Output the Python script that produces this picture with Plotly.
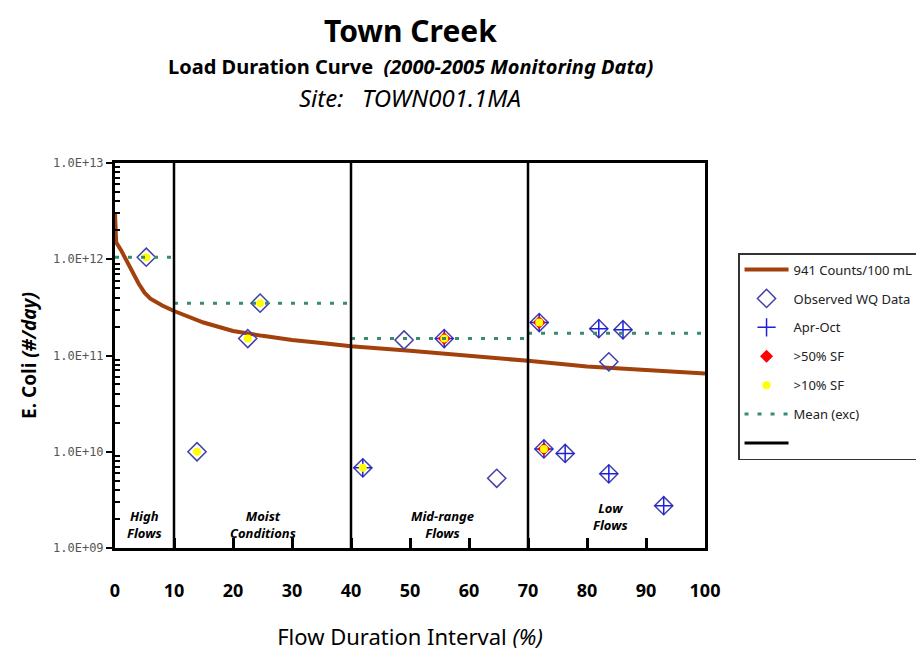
import math
import plotly.graph_objects as go

# ---- data ----
curve_x = [0, 0.2, 1, 2, 3, 4, 5, 6, 8, 10, 15, 20, 25, 30, 35, 40, 50, 60, 70, 80, 90, 100]
curve_y = [3.0e12, 1.5e12, 1.25e12, 9.5e11, 7.2e11, 5.6e11, 4.5e11, 3.9e11, 3.3e11, 2.9e11,
           2.2e11, 1.8e11, 1.6e11, 1.45e11, 1.35e11, 1.25e11, 1.12e11, 1.0e11, 8.8e10,
           7.7e10, 7.1e10, 6.5e10]

obs_x = [5.3, 13.9, 22.5, 24.6, 42.0, 49.0, 55.8, 64.7, 71.9, 72.7, 76.3, 82.0, 83.7, 83.7, 86.1, 93.0]
obs_y = [1.05e12, 1.0e10, 1.5e11, 3.5e11, 6.8e9, 1.45e11, 1.5e11, 5.3e9, 2.2e11, 1.07e10,
         9.6e9, 1.9e11, 8.6e10, 5.9e9, 1.85e11, 2.75e9]

aproct_x = [42.0, 55.8, 71.9, 72.7, 76.3, 82.0, 83.7, 86.1, 93.0]
aproct_y = [6.8e9, 1.5e11, 2.2e11, 1.07e10, 9.6e9, 1.9e11, 5.9e9, 1.85e11, 2.75e9]

sf50_x = [55.8, 71.9, 72.7]
sf50_y = [1.5e11, 2.2e11, 1.07e10]

sf10_x = [5.3, 13.9, 22.5, 24.6, 42.0, 55.8, 71.9, 72.7]
sf10_y = [1.05e12, 1.0e10, 1.5e11, 3.5e11, 6.8e9, 1.5e11, 2.2e11, 1.07e10]

zone_edges = [0, 10, 40, 70, 100]
zone_means = [1.05e12, 3.5e11, 1.5e11, 1.7e11]
zone_names = ["High<br>Flows", "Moist<br>Conditions", "Mid-range<br>Flows", "Low<br>Flows"]
zone_label_x = [5, 25, 55.5, 84]
zone_label_y = [1.75e9, 1.75e9, 1.75e9, 2.1e9]

y_tickvals = [1e9, 1e10, 1e11, 1e12, 1e13]
y_ticktext = ["1.0E+09", "1.0E+10", "1.0E+11", "1.0E+12", "1.0E+13"]
y_minor_mult = [2, 3, 4, 5, 6, 7, 8, 9]
x_tickvals = [0, 10, 20, 30, 40, 50, 60, 70, 80, 90, 100]

FONT = "Noto Sans"

mean_x, mean_y = [], []
for i, m in enumerate(zone_means):
    mean_x += [zone_edges[i], zone_edges[i + 1], None]
    mean_y += [m, m, None]

minor_vals = [m * d for d in y_tickvals[:-1] for m in y_minor_mult]

fig = go.Figure()
fig.add_trace(go.Scatter(x=curve_x, y=curve_y, mode="lines", name="941 Counts/100 mL",
                         line=dict(color="#A2410C", width=4), legendgroup="a"))
fig.add_trace(go.Scatter(x=obs_x, y=obs_y, mode="markers", name="Observed WQ Data",
                         marker=dict(symbol="diamond-open", size=14, color="#4040A8",
                                     line=dict(width=1.5, color="#4040A8")), legendgroup="b"))
fig.add_trace(go.Scatter(x=aproct_x, y=aproct_y, mode="markers", name="Apr-Oct",
                         marker=dict(symbol="cross-thin", size=13, color="#1E1EE0",
                                     line=dict(width=1.5, color="#1E1EE0")), legendgroup="c"))
fig.add_trace(go.Scatter(x=sf50_x, y=sf50_y, mode="markers", name=">50% SF",
                         marker=dict(symbol="diamond", size=10, color="#FF0000",
                                     line=dict(width=0)), legendgroup="d"))
fig.add_trace(go.Scatter(x=sf10_x, y=sf10_y, mode="markers", name=">10% SF",
                         marker=dict(symbol="circle", size=8, color="#FFFF00",
                                     line=dict(width=0)), legendgroup="e"))
fig.add_trace(go.Scatter(x=mean_x, y=mean_y, mode="lines", name="Mean (exc)",
                         line=dict(color="#3A8A70", width=3, dash="4px,9px"), legendgroup="f"))
fig.add_trace(go.Scatter(x=[None], y=[None], mode="lines", name=" ",
                         line=dict(color="black", width=3), legendgroup="g"))

for e in zone_edges[1:-1]:
    fig.add_shape(type="line", x0=e, x1=e, xref="x", yref="paper", y0=0, y1=1,
                  line=dict(color="black", width=2.5))

for name, lx, ly in zip(zone_names, zone_label_x, zone_label_y):
    fig.add_annotation(x=lx, y=math.log10(ly), xref="x", yref="y", text="<b><i>" + name + "</i></b>",
                       showarrow=False, font=dict(family=FONT, size=13, color="black"))

fig.add_annotation(x=0.5, y=1.343, xref="paper", yref="paper", yanchor="middle",
                   text="<b>Town Creek</b>",
                   showarrow=False, font=dict(family=FONT, size=30, color="black"))
fig.add_annotation(x=0.5, y=1.2494, xref="paper", yref="paper", yanchor="middle",
                   text="<b>Load Duration Curve  <i>(2000-2005 Monitoring Data)</i></b>",
                   showarrow=False, font=dict(family=FONT, size=20, color="black"))
fig.add_annotation(x=0.5, y=1.1714, xref="paper", yref="paper", yanchor="middle",
                   text="<i>Site:   TOWN001.1MA</i>",
                   showarrow=False, font=dict(family=FONT, size=24, color="black"))

fig.update_layout(
    width=916, height=657,
    margin=dict(l=107, r=219, t=155, b=117, autoexpand=False),
    paper_bgcolor="white", plot_bgcolor="white",
    showlegend=True,
    legend=dict(x=1.056, y=0.766, xanchor="left", yanchor="top",
                bordercolor="#333333", borderwidth=1.5, bgcolor="white",
                font=dict(family=FONT, size=13, color="#222222"),
                tracegroupgap=9, itemwidth=44),
    xaxis=dict(range=[0, 100], tickvals=x_tickvals, ticks="inside", ticklen=10, tickwidth=2.5,
               tickcolor="black", showline=True, linecolor="black", linewidth=3, mirror=True,
               showgrid=False, zeroline=False, ticklabelstandoff=24, automargin=False,
               tickfont=dict(family=FONT, size=18, color="black", weight="bold"),
               title=dict(text="Flow Duration Interval <i>(%)</i>", standoff=30,
                          font=dict(family=FONT, size=22, color="black"))),
    yaxis=dict(type="log", range=[9, 13], tickvals=y_tickvals, ticktext=y_ticktext,
               ticks="outside", ticklen=6, tickwidth=2, tickcolor="black",
               showline=True, linecolor="black", linewidth=3, mirror=True,
               showgrid=False, zeroline=False, automargin=False,
               tickfont=dict(family="DejaVu Sans Mono", size=12, color="#555555"),
               minor=dict(tickvals=minor_vals, ticks="inside", ticklen=5, tickwidth=1.5,
                          tickcolor="black", showgrid=False),
               title=dict(text="<b>E. Coli <i>(#/day)</i></b>", standoff=12,
                          font=dict(family=FONT, size=19, color="black"))),
)

fig.write_html("out.html")
